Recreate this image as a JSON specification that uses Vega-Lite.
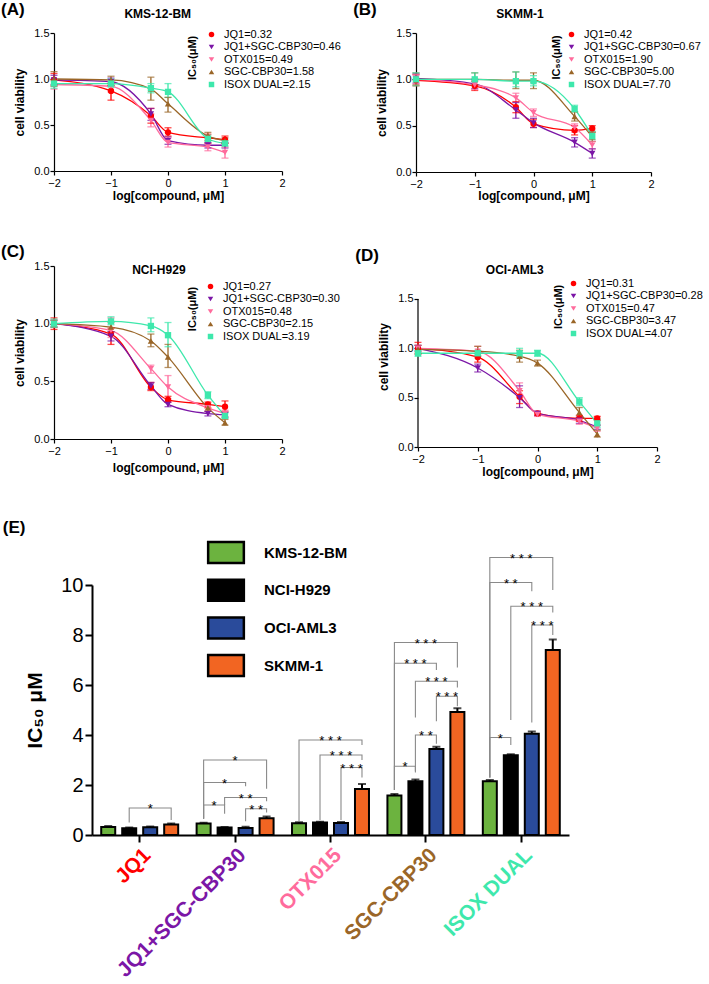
{
 "$schema": "https://vega.github.io/schema/vega-lite/v6.json",
 "padding": {"left": 0, "top": 0, "right": 0, "bottom": 0},
 "config": {
  "font": "Liberation Sans",
  "view": {"stroke": null},
  "axis": {"grid": false, "domainColor": "#000", "tickColor": "#000", "labelColor": "#000", "titleColor": "#000"},
  "legend": {"labelColor": "#000", "titleColor": "#000"}
 },
 "datasets": {
  "curves": [
   {"p":"A","d":"JQ1","x":-2,"v":0.99,"lo":0.92,"hi":1.06},
   {"p":"A","d":"JQ1","x":-1,"v":0.87,"lo":0.77,"hi":0.93},
   {"p":"A","d":"JQ1","x":-0.3,"v":0.6,"lo":0.52,"hi":0.68},
   {"p":"A","d":"JQ1","x":0,"v":0.42,"lo":0.38,"hi":0.47},
   {"p":"A","d":"JQ1","x":0.7,"v":0.36,"lo":0.3,"hi":0.4},
   {"p":"A","d":"JQ1","x":1,"v":0.34,"lo":0.3,"hi":0.38},
   {"p":"A","d":"JQ1+SGC-CBP30","x":-2,"v":0.99,"lo":0.94,"hi":1.04},
   {"p":"A","d":"JQ1+SGC-CBP30","x":-1,"v":0.97,"lo":0.93,"hi":1.01},
   {"p":"A","d":"JQ1+SGC-CBP30","x":-0.3,"v":0.62,"lo":0.55,"hi":0.68},
   {"p":"A","d":"JQ1+SGC-CBP30","x":0,"v":0.33,"lo":0.29,"hi":0.37},
   {"p":"A","d":"JQ1+SGC-CBP30","x":0.7,"v":0.28,"lo":0.25,"hi":0.31},
   {"p":"A","d":"JQ1+SGC-CBP30","x":1,"v":0.28,"lo":0.25,"hi":0.31},
   {"p":"A","d":"OTX015","x":-2,"v":0.94,"lo":0.89,"hi":0.99},
   {"p":"A","d":"OTX015","x":-1,"v":0.92,"lo":0.86,"hi":0.97},
   {"p":"A","d":"OTX015","x":-0.3,"v":0.55,"lo":0.48,"hi":0.62},
   {"p":"A","d":"OTX015","x":0,"v":0.31,"lo":0.26,"hi":0.36},
   {"p":"A","d":"OTX015","x":0.7,"v":0.26,"lo":0.22,"hi":0.3},
   {"p":"A","d":"OTX015","x":1,"v":0.2,"lo":0.14,"hi":0.26},
   {"p":"A","d":"SGC-CBP30","x":-2,"v":1.0,"lo":0.93,"hi":1.08},
   {"p":"A","d":"SGC-CBP30","x":-1,"v":0.99,"lo":0.95,"hi":1.03},
   {"p":"A","d":"SGC-CBP30","x":-0.3,"v":0.89,"lo":0.77,"hi":1.02},
   {"p":"A","d":"SGC-CBP30","x":0,"v":0.73,"lo":0.64,"hi":0.8},
   {"p":"A","d":"SGC-CBP30","x":0.7,"v":0.38,"lo":0.33,"hi":0.42},
   {"p":"A","d":"SGC-CBP30","x":1,"v":0.33,"lo":0.3,"hi":0.36},
   {"p":"A","d":"ISOX DUAL","x":-2,"v":0.95,"lo":0.9,"hi":1.0},
   {"p":"A","d":"ISOX DUAL","x":-1,"v":0.95,"lo":0.91,"hi":1.0},
   {"p":"A","d":"ISOX DUAL","x":-0.3,"v":0.9,"lo":0.85,"hi":0.95},
   {"p":"A","d":"ISOX DUAL","x":0,"v":0.86,"lo":0.8,"hi":0.95},
   {"p":"A","d":"ISOX DUAL","x":0.7,"v":0.35,"lo":0.31,"hi":0.39},
   {"p":"A","d":"ISOX DUAL","x":1,"v":0.3,"lo":0.27,"hi":0.33},
   {"p":"B","d":"JQ1","x":-2,"v":0.99,"lo":0.93,"hi":1.05},
   {"p":"B","d":"JQ1","x":-1,"v":0.93,"lo":0.88,"hi":0.98},
   {"p":"B","d":"JQ1","x":-0.3,"v":0.7,"lo":0.64,"hi":0.76},
   {"p":"B","d":"JQ1","x":0,"v":0.52,"lo":0.48,"hi":0.57},
   {"p":"B","d":"JQ1","x":0.7,"v":0.45,"lo":0.4,"hi":0.5},
   {"p":"B","d":"JQ1","x":1,"v":0.47,"lo":0.43,"hi":0.5},
   {"p":"B","d":"JQ1+SGC-CBP30","x":-2,"v":1.01,"lo":0.96,"hi":1.06},
   {"p":"B","d":"JQ1+SGC-CBP30","x":-1,"v":0.95,"lo":0.9,"hi":1.0},
   {"p":"B","d":"JQ1+SGC-CBP30","x":-0.3,"v":0.67,"lo":0.58,"hi":0.75},
   {"p":"B","d":"JQ1+SGC-CBP30","x":0,"v":0.53,"lo":0.48,"hi":0.58},
   {"p":"B","d":"JQ1+SGC-CBP30","x":0.7,"v":0.32,"lo":0.27,"hi":0.37},
   {"p":"B","d":"JQ1+SGC-CBP30","x":1,"v":0.2,"lo":0.15,"hi":0.25},
   {"p":"B","d":"OTX015","x":-2,"v":1.0,"lo":0.95,"hi":1.05},
   {"p":"B","d":"OTX015","x":-1,"v":0.94,"lo":0.89,"hi":0.99},
   {"p":"B","d":"OTX015","x":-0.3,"v":0.8,"lo":0.75,"hi":0.85},
   {"p":"B","d":"OTX015","x":0,"v":0.64,"lo":0.6,"hi":0.68},
   {"p":"B","d":"OTX015","x":0.7,"v":0.48,"lo":0.43,"hi":0.52},
   {"p":"B","d":"OTX015","x":1,"v":0.29,"lo":0.25,"hi":0.33},
   {"p":"B","d":"SGC-CBP30","x":-2,"v":1.0,"lo":0.94,"hi":1.07},
   {"p":"B","d":"SGC-CBP30","x":-1,"v":1.0,"lo":0.94,"hi":1.07},
   {"p":"B","d":"SGC-CBP30","x":-0.3,"v":0.99,"lo":0.9,"hi":1.08},
   {"p":"B","d":"SGC-CBP30","x":0,"v":0.99,"lo":0.9,"hi":1.07},
   {"p":"B","d":"SGC-CBP30","x":0.7,"v":0.6,"lo":0.55,"hi":0.65},
   {"p":"B","d":"SGC-CBP30","x":1,"v":0.38,"lo":0.33,"hi":0.43},
   {"p":"B","d":"ISOX DUAL","x":-2,"v":1.0,"lo":0.93,"hi":1.07},
   {"p":"B","d":"ISOX DUAL","x":-1,"v":1.0,"lo":0.94,"hi":1.07},
   {"p":"B","d":"ISOX DUAL","x":-0.3,"v":0.98,"lo":0.92,"hi":1.08},
   {"p":"B","d":"ISOX DUAL","x":0,"v":0.98,"lo":0.93,"hi":1.04},
   {"p":"B","d":"ISOX DUAL","x":0.7,"v":0.68,"lo":0.65,"hi":0.72},
   {"p":"B","d":"ISOX DUAL","x":1,"v":0.39,"lo":0.35,"hi":0.44},
   {"p":"C","d":"JQ1","x":-2,"v":1.0,"lo":0.95,"hi":1.05},
   {"p":"C","d":"JQ1","x":-1,"v":0.91,"lo":0.82,"hi":0.96},
   {"p":"C","d":"JQ1","x":-0.3,"v":0.45,"lo":0.42,"hi":0.49},
   {"p":"C","d":"JQ1","x":0,"v":0.34,"lo":0.32,"hi":0.37},
   {"p":"C","d":"JQ1","x":0.7,"v":0.3,"lo":0.27,"hi":0.32},
   {"p":"C","d":"JQ1","x":1,"v":0.28,"lo":0.24,"hi":0.33},
   {"p":"C","d":"JQ1+SGC-CBP30","x":-2,"v":1.0,"lo":0.97,"hi":1.03},
   {"p":"C","d":"JQ1+SGC-CBP30","x":-1,"v":0.89,"lo":0.85,"hi":0.93},
   {"p":"C","d":"JQ1+SGC-CBP30","x":-0.3,"v":0.46,"lo":0.43,"hi":0.49},
   {"p":"C","d":"JQ1+SGC-CBP30","x":0,"v":0.3,"lo":0.28,"hi":0.32},
   {"p":"C","d":"JQ1+SGC-CBP30","x":0.7,"v":0.22,"lo":0.2,"hi":0.24},
   {"p":"C","d":"JQ1+SGC-CBP30","x":1,"v":0.21,"lo":0.19,"hi":0.23},
   {"p":"C","d":"OTX015","x":-2,"v":1.0,"lo":0.97,"hi":1.03},
   {"p":"C","d":"OTX015","x":-1,"v":0.94,"lo":0.88,"hi":1.05},
   {"p":"C","d":"OTX015","x":-0.3,"v":0.61,"lo":0.57,"hi":0.64},
   {"p":"C","d":"OTX015","x":0,"v":0.45,"lo":0.35,"hi":0.55},
   {"p":"C","d":"OTX015","x":0.7,"v":0.27,"lo":0.24,"hi":0.3},
   {"p":"C","d":"OTX015","x":1,"v":0.22,"lo":0.19,"hi":0.25},
   {"p":"C","d":"SGC-CBP30","x":-2,"v":1.0,"lo":0.97,"hi":1.03},
   {"p":"C","d":"SGC-CBP30","x":-1,"v":0.97,"lo":0.93,"hi":1.01},
   {"p":"C","d":"SGC-CBP30","x":-0.3,"v":0.85,"lo":0.8,"hi":0.91},
   {"p":"C","d":"SGC-CBP30","x":0,"v":0.71,"lo":0.62,"hi":0.82},
   {"p":"C","d":"SGC-CBP30","x":0.7,"v":0.27,"lo":0.24,"hi":0.3},
   {"p":"C","d":"SGC-CBP30","x":1,"v":0.14,"lo":0.12,"hi":0.17},
   {"p":"C","d":"ISOX DUAL","x":-2,"v":1.0,"lo":0.97,"hi":1.04},
   {"p":"C","d":"ISOX DUAL","x":-1,"v":1.02,"lo":0.99,"hi":1.06},
   {"p":"C","d":"ISOX DUAL","x":-0.3,"v":0.98,"lo":0.93,"hi":1.05},
   {"p":"C","d":"ISOX DUAL","x":0,"v":0.9,"lo":0.8,"hi":1.01},
   {"p":"C","d":"ISOX DUAL","x":0.7,"v":0.38,"lo":0.35,"hi":0.41},
   {"p":"C","d":"ISOX DUAL","x":1,"v":0.2,"lo":0.18,"hi":0.23},
   {"p":"D","d":"JQ1","x":-2,"v":1.0,"lo":0.94,"hi":1.06},
   {"p":"D","d":"JQ1","x":-1,"v":0.91,"lo":0.86,"hi":0.97},
   {"p":"D","d":"JQ1","x":-0.3,"v":0.51,"lo":0.44,"hi":0.57},
   {"p":"D","d":"JQ1","x":0,"v":0.34,"lo":0.32,"hi":0.36},
   {"p":"D","d":"JQ1","x":0.7,"v":0.29,"lo":0.26,"hi":0.32},
   {"p":"D","d":"JQ1","x":1,"v":0.29,"lo":0.27,"hi":0.31},
   {"p":"D","d":"JQ1+SGC-CBP30","x":-2,"v":1.0,"lo":0.97,"hi":1.03},
   {"p":"D","d":"JQ1+SGC-CBP30","x":-1,"v":0.8,"lo":0.76,"hi":0.84},
   {"p":"D","d":"JQ1+SGC-CBP30","x":-0.3,"v":0.5,"lo":0.4,"hi":0.62},
   {"p":"D","d":"JQ1+SGC-CBP30","x":0,"v":0.34,"lo":0.32,"hi":0.36},
   {"p":"D","d":"JQ1+SGC-CBP30","x":0.7,"v":0.27,"lo":0.24,"hi":0.3},
   {"p":"D","d":"JQ1+SGC-CBP30","x":1,"v":0.2,"lo":0.18,"hi":0.22},
   {"p":"D","d":"OTX015","x":-2,"v":1.0,"lo":0.97,"hi":1.03},
   {"p":"D","d":"OTX015","x":-1,"v":0.97,"lo":0.93,"hi":1.02},
   {"p":"D","d":"OTX015","x":-0.3,"v":0.57,"lo":0.53,"hi":0.65},
   {"p":"D","d":"OTX015","x":0,"v":0.33,"lo":0.31,"hi":0.36},
   {"p":"D","d":"OTX015","x":0.7,"v":0.26,"lo":0.23,"hi":0.29},
   {"p":"D","d":"OTX015","x":1,"v":0.19,"lo":0.16,"hi":0.22},
   {"p":"D","d":"SGC-CBP30","x":-2,"v":0.99,"lo":0.95,"hi":1.03},
   {"p":"D","d":"SGC-CBP30","x":-1,"v":0.97,"lo":0.92,"hi":1.02},
   {"p":"D","d":"SGC-CBP30","x":-0.3,"v":0.92,"lo":0.86,"hi":0.98},
   {"p":"D","d":"SGC-CBP30","x":0,"v":0.85,"lo":0.82,"hi":0.88},
   {"p":"D","d":"SGC-CBP30","x":0.7,"v":0.35,"lo":0.3,"hi":0.4},
   {"p":"D","d":"SGC-CBP30","x":1,"v":0.13,"lo":0.1,"hi":0.17},
   {"p":"D","d":"ISOX DUAL","x":-2,"v":0.95,"lo":0.92,"hi":0.98},
   {"p":"D","d":"ISOX DUAL","x":-1,"v":0.95,"lo":0.92,"hi":0.98},
   {"p":"D","d":"ISOX DUAL","x":-0.3,"v":0.95,"lo":0.91,"hi":1.0},
   {"p":"D","d":"ISOX DUAL","x":0,"v":0.95,"lo":0.92,"hi":0.98},
   {"p":"D","d":"ISOX DUAL","x":0.7,"v":0.46,"lo":0.42,"hi":0.5},
   {"p":"D","d":"ISOX DUAL","x":1,"v":0.24,"lo":0.2,"hi":0.28}
  ],
  "bars": [
   {"d":"JQ1","c":"KMS-12-BM","v":0.32,"hi":0.36},
   {"d":"JQ1","c":"NCI-H929","v":0.27,"hi":0.3},
   {"d":"JQ1","c":"OCI-AML3","v":0.31,"hi":0.34},
   {"d":"JQ1","c":"SKMM-1","v":0.42,"hi":0.46},
   {"d":"JQ1+SGC-CBP30","c":"KMS-12-BM","v":0.46,"hi":0.49},
   {"d":"JQ1+SGC-CBP30","c":"NCI-H929","v":0.3,"hi":0.32},
   {"d":"JQ1+SGC-CBP30","c":"OCI-AML3","v":0.28,"hi":0.33},
   {"d":"JQ1+SGC-CBP30","c":"SKMM-1","v":0.67,"hi":0.74},
   {"d":"OTX015","c":"KMS-12-BM","v":0.47,"hi":0.51},
   {"d":"OTX015","c":"NCI-H929","v":0.5,"hi":0.53},
   {"d":"OTX015","c":"OCI-AML3","v":0.48,"hi":0.52},
   {"d":"OTX015","c":"SKMM-1","v":1.84,"hi":2.04},
   {"d":"SGC-CBP30","c":"KMS-12-BM","v":1.58,"hi":1.64},
   {"d":"SGC-CBP30","c":"NCI-H929","v":2.15,"hi":2.22},
   {"d":"SGC-CBP30","c":"OCI-AML3","v":3.44,"hi":3.53},
   {"d":"SGC-CBP30","c":"SKMM-1","v":4.92,"hi":5.07},
   {"d":"ISOX DUAL","c":"KMS-12-BM","v":2.15,"hi":2.2},
   {"d":"ISOX DUAL","c":"NCI-H929","v":3.19,"hi":3.23},
   {"d":"ISOX DUAL","c":"OCI-AML3","v":4.05,"hi":4.14},
   {"d":"ISOX DUAL","c":"SKMM-1","v":7.4,"hi":7.82}
  ],
  "brackets": [
   {"b":1,"o":1,"d":"JQ1","c":"NCI-H929","y":0.5},
   {"b":1,"o":2,"d":"JQ1","c":"NCI-H929","y":1.08},
   {"b":1,"o":3,"d":"JQ1","c":"SKMM-1","y":1.08},
   {"b":1,"o":4,"d":"JQ1","c":"SKMM-1","y":0.6},
   {"b":2,"o":1,"d":"JQ1+SGC-CBP30","c":"KMS-12-BM","y":0.65},
   {"b":2,"o":2,"d":"JQ1+SGC-CBP30","c":"KMS-12-BM","y":3.0},
   {"b":2,"o":3,"d":"JQ1+SGC-CBP30","c":"SKMM-1","y":3.0},
   {"b":2,"o":4,"d":"JQ1+SGC-CBP30","c":"SKMM-1","y":1.85},
   {"b":3,"o":1,"d":"JQ1+SGC-CBP30","c":"KMS-12-BM","y":0.65},
   {"b":3,"o":2,"d":"JQ1+SGC-CBP30","c":"KMS-12-BM","y":2.1},
   {"b":3,"o":3,"d":"JQ1+SGC-CBP30","c":"OCI-AML3","y":2.1},
   {"b":3,"o":4,"d":"JQ1+SGC-CBP30","c":"OCI-AML3","y":1.95},
   {"b":4,"o":1,"d":"JQ1+SGC-CBP30","c":"KMS-12-BM","y":0.65},
   {"b":4,"o":2,"d":"JQ1+SGC-CBP30","c":"KMS-12-BM","y":1.2},
   {"b":4,"o":3,"d":"JQ1+SGC-CBP30","c":"NCI-H929","y":1.2},
   {"b":4,"o":4,"d":"JQ1+SGC-CBP30","c":"NCI-H929","y":0.85},
   {"b":5,"o":1,"d":"JQ1+SGC-CBP30","c":"NCI-H929","y":1.2},
   {"b":5,"o":2,"d":"JQ1+SGC-CBP30","c":"NCI-H929","y":1.5},
   {"b":5,"o":3,"d":"JQ1+SGC-CBP30","c":"SKMM-1","y":1.5},
   {"b":5,"o":4,"d":"JQ1+SGC-CBP30","c":"SKMM-1","y":1.35},
   {"b":6,"o":1,"d":"JQ1+SGC-CBP30","c":"OCI-AML3","y":0.55},
   {"b":6,"o":2,"d":"JQ1+SGC-CBP30","c":"OCI-AML3","y":1.05},
   {"b":6,"o":3,"d":"JQ1+SGC-CBP30","c":"SKMM-1","y":1.05},
   {"b":6,"o":4,"d":"JQ1+SGC-CBP30","c":"SKMM-1","y":0.9},
   {"b":7,"o":1,"d":"OTX015","c":"KMS-12-BM","y":0.56},
   {"b":7,"o":2,"d":"OTX015","c":"KMS-12-BM","y":3.8},
   {"b":7,"o":3,"d":"OTX015","c":"SKMM-1","y":3.8},
   {"b":7,"o":4,"d":"OTX015","c":"SKMM-1","y":3.6},
   {"b":8,"o":1,"d":"OTX015","c":"NCI-H929","y":0.6},
   {"b":8,"o":2,"d":"OTX015","c":"NCI-H929","y":3.2},
   {"b":8,"o":3,"d":"OTX015","c":"SKMM-1","y":3.2},
   {"b":8,"o":4,"d":"OTX015","c":"SKMM-1","y":3.0},
   {"b":9,"o":1,"d":"OTX015","c":"OCI-AML3","y":0.6},
   {"b":9,"o":2,"d":"OTX015","c":"OCI-AML3","y":2.7},
   {"b":9,"o":3,"d":"OTX015","c":"SKMM-1","y":2.7},
   {"b":9,"o":4,"d":"OTX015","c":"SKMM-1","y":2.3},
   {"b":10,"o":1,"d":"SGC-CBP30","c":"KMS-12-BM","y":1.8},
   {"b":10,"o":2,"d":"SGC-CBP30","c":"KMS-12-BM","y":7.7},
   {"b":10,"o":3,"d":"SGC-CBP30","c":"SKMM-1","y":7.7},
   {"b":10,"o":4,"d":"SGC-CBP30","c":"SKMM-1","y":6.7},
   {"b":11,"o":1,"d":"SGC-CBP30","c":"KMS-12-BM","y":1.8},
   {"b":11,"o":2,"d":"SGC-CBP30","c":"KMS-12-BM","y":6.87},
   {"b":11,"o":3,"d":"SGC-CBP30","c":"OCI-AML3","y":6.87},
   {"b":11,"o":4,"d":"SGC-CBP30","c":"OCI-AML3","y":6.6},
   {"b":12,"o":1,"d":"SGC-CBP30","c":"NCI-H929","y":4.7},
   {"b":12,"o":2,"d":"SGC-CBP30","c":"NCI-H929","y":6.15},
   {"b":12,"o":3,"d":"SGC-CBP30","c":"SKMM-1","y":6.15},
   {"b":12,"o":4,"d":"SGC-CBP30","c":"SKMM-1","y":5.9},
   {"b":13,"o":1,"d":"SGC-CBP30","c":"OCI-AML3","y":4.55},
   {"b":13,"o":2,"d":"SGC-CBP30","c":"OCI-AML3","y":5.55},
   {"b":13,"o":3,"d":"SGC-CBP30","c":"SKMM-1","y":5.55},
   {"b":13,"o":4,"d":"SGC-CBP30","c":"SKMM-1","y":5.15},
   {"b":14,"o":1,"d":"SGC-CBP30","c":"NCI-H929","y":2.55},
   {"b":14,"o":2,"d":"SGC-CBP30","c":"NCI-H929","y":4.0},
   {"b":14,"o":3,"d":"SGC-CBP30","c":"OCI-AML3","y":4.0},
   {"b":14,"o":4,"d":"SGC-CBP30","c":"OCI-AML3","y":3.65},
   {"b":15,"o":1,"d":"SGC-CBP30","c":"KMS-12-BM","y":1.8},
   {"b":15,"o":2,"d":"SGC-CBP30","c":"KMS-12-BM","y":2.75},
   {"b":15,"o":3,"d":"SGC-CBP30","c":"NCI-H929","y":2.75},
   {"b":15,"o":4,"d":"SGC-CBP30","c":"NCI-H929","y":2.5},
   {"b":16,"o":1,"d":"ISOX DUAL","c":"KMS-12-BM","y":2.3},
   {"b":16,"o":2,"d":"ISOX DUAL","c":"KMS-12-BM","y":11.1},
   {"b":16,"o":3,"d":"ISOX DUAL","c":"SKMM-1","y":11.1},
   {"b":16,"o":4,"d":"ISOX DUAL","c":"SKMM-1","y":9.8},
   {"b":17,"o":1,"d":"ISOX DUAL","c":"KMS-12-BM","y":2.3},
   {"b":17,"o":2,"d":"ISOX DUAL","c":"KMS-12-BM","y":10.1},
   {"b":17,"o":3,"d":"ISOX DUAL","c":"OCI-AML3","y":10.1},
   {"b":17,"o":4,"d":"ISOX DUAL","c":"OCI-AML3","y":9.75},
   {"b":18,"o":1,"d":"ISOX DUAL","c":"NCI-H929","y":4.6},
   {"b":18,"o":2,"d":"ISOX DUAL","c":"NCI-H929","y":9.15},
   {"b":18,"o":3,"d":"ISOX DUAL","c":"SKMM-1","y":9.15},
   {"b":18,"o":4,"d":"ISOX DUAL","c":"SKMM-1","y":8.9},
   {"b":19,"o":1,"d":"ISOX DUAL","c":"OCI-AML3","y":4.5},
   {"b":19,"o":2,"d":"ISOX DUAL","c":"OCI-AML3","y":8.4},
   {"b":19,"o":3,"d":"ISOX DUAL","c":"SKMM-1","y":8.4},
   {"b":19,"o":4,"d":"ISOX DUAL","c":"SKMM-1","y":8.0},
   {"b":20,"o":1,"d":"ISOX DUAL","c":"KMS-12-BM","y":2.3},
   {"b":20,"o":2,"d":"ISOX DUAL","c":"KMS-12-BM","y":3.9},
   {"b":20,"o":3,"d":"ISOX DUAL","c":"NCI-H929","y":3.9},
   {"b":20,"o":4,"d":"ISOX DUAL","c":"NCI-H929","y":3.6}
  ],
  "stars": [
   {"d":"JQ1","c":"OCI-AML3","y":1.08,"s":"*"},
   {"d":"JQ1+SGC-CBP30","c":"NO","y":3.0,"s":"*"},
   {"d":"JQ1+SGC-CBP30","c":"NCI-H929","y":2.1,"s":"*"},
   {"d":"JQ1+SGC-CBP30","c":"KN","y":1.2,"s":"*"},
   {"d":"JQ1+SGC-CBP30","c":"OCI-AML3","y":1.5,"s":"* *"},
   {"d":"JQ1+SGC-CBP30","c":"OS","y":1.05,"s":"* *"},
   {"d":"OTX015","c":"NO","y":3.8,"s":"* * *"},
   {"d":"OTX015","c":"OCI-AML3","y":3.2,"s":"* * *"},
   {"d":"OTX015","c":"OS","y":2.7,"s":"* * *"},
   {"d":"SGC-CBP30","c":"NO","y":7.7,"s":"* * *"},
   {"d":"SGC-CBP30","c":"NCI-H929","y":6.87,"s":"* * *"},
   {"d":"SGC-CBP30","c":"OCI-AML3","y":6.15,"s":"* * *"},
   {"d":"SGC-CBP30","c":"OS","y":5.55,"s":"* * *"},
   {"d":"SGC-CBP30","c":"NO","y":4.0,"s":"* *"},
   {"d":"SGC-CBP30","c":"KN","y":2.75,"s":"*"},
   {"d":"ISOX DUAL","c":"NO","y":11.1,"s":"* * *"},
   {"d":"ISOX DUAL","c":"NCI-H929","y":10.1,"s":"* *"},
   {"d":"ISOX DUAL","c":"OCI-AML3","y":9.15,"s":"* * *"},
   {"d":"ISOX DUAL","c":"OS","y":8.4,"s":"* * *"},
   {"d":"ISOX DUAL","c":"KN","y":3.9,"s":"*"}
  ]
 },
 "resolve": {"scale": {"color": "independent", "shape": "independent"}},
 "spacing": 41,
 "vconcat": [
  {
   "spacing": 42,
   "resolve": {"scale": {"color": "independent", "shape": "independent"}},
   "vconcat": [
    {
     "spacing": 12,
     "resolve": {"scale": {"color": "independent", "shape": "independent"}},
     "hconcat": [
      {
       "width": 228, "height": 138,
       "layer": [
        {"data": {"name": "curves"}, "transform": [{"filter": "datum.p == 'A'"}],
         "mark": {"type": "line", "interpolate": "monotone", "strokeWidth": 1.3},
         "encoding": {
          "x": {"field": "x", "type": "quantitative", "title": "log[compound, μM]", "scale": {"domain": [-2, 2], "nice": false},
                "axis": {"values": [-2, -1, 0, 1, 2], "format": "d", "titleFontSize": 12, "titleFontWeight": "bold", "labelFontSize": 11, "tickSize": 4, "labelPadding": 2, "titlePadding": 2, "domainWidth": 1.2, "tickWidth": 1.2, "labelFlush": false}},
          "y": {"field": "v", "type": "quantitative", "title": "cell viability", "scale": {"domain": [0, 1.5], "nice": false},
                "axis": {"values": [0, 0.5, 1, 1.5], "format": ".1f", "titleFontSize": 12, "titleFontWeight": "bold", "labelFontSize": 11, "tickSize": 4, "labelPadding": 1, "titlePadding": 7, "domainWidth": 1.2, "tickWidth": 1.2}},
          "stroke": {"field": "d", "type": "nominal", "scale": {"domain": ["JQ1", "JQ1+SGC-CBP30", "OTX015", "SGC-CBP30", "ISOX DUAL"], "range": ["#ff0000", "#7b16a6", "#ff6b9c", "#9a6628", "#3ee8ac"]}, "legend": null},
          "detail": {"field": "d"}}},
        {"data": {"name": "curves"}, "transform": [{"filter": "datum.p == 'A'"}],
         "mark": {"type": "rule", "strokeWidth": 1.3},
         "encoding": {"x": {"field": "x", "type": "quantitative", "title": "log[compound, μM]"}, "y": {"field": "lo", "type": "quantitative", "title": "cell viability"}, "y2": {"field": "hi"},
          "stroke": {"field": "d", "type": "nominal", "legend": null}}},
        {"data": {"name": "curves"}, "transform": [{"filter": "datum.p == 'A'"}],
         "mark": {"type": "tick", "orient": "horizontal", "size": 7, "thickness": 1.3},
         "encoding": {"x": {"field": "x", "type": "quantitative", "title": "log[compound, μM]"}, "y": {"field": "lo", "type": "quantitative", "title": "cell viability"},
          "fill": {"field": "d", "type": "nominal", "scale": {"domain": ["JQ1", "JQ1+SGC-CBP30", "OTX015", "SGC-CBP30", "ISOX DUAL"], "range": ["#ff0000", "#7b16a6", "#ff6b9c", "#9a6628", "#3ee8ac"]}, "legend": null}}},
        {"data": {"name": "curves"}, "transform": [{"filter": "datum.p == 'A'"}],
         "mark": {"type": "tick", "orient": "horizontal", "size": 7, "thickness": 1.3},
         "encoding": {"x": {"field": "x", "type": "quantitative", "title": "log[compound, μM]"}, "y": {"field": "hi", "type": "quantitative", "title": "cell viability"},
          "fill": {"field": "d", "type": "nominal", "legend": null}}},
        {"data": {"name": "curves"}, "transform": [{"filter": "datum.p == 'A'"}],
         "mark": {"type": "point", "filled": true, "size": 40, "opacity": 1},
         "encoding": {"x": {"field": "x", "type": "quantitative", "title": "log[compound, μM]"}, "y": {"field": "v", "type": "quantitative", "title": "cell viability"},
          "color": {"field": "d", "type": "nominal", "scale": {"domain": ["JQ1", "JQ1+SGC-CBP30", "OTX015", "SGC-CBP30", "ISOX DUAL"], "range": ["#ff0000", "#7b16a6", "#ff6b9c", "#9a6628", "#3ee8ac"]},
                    "legend": {"title": null, "orient": "none", "legendX": 152, "legendY": -4, "labelFontSize": 11, "symbolSize": 30, "rowPadding": 0.5, "labelOffset": 7, "padding": 0,
                               "labelExpr": "datum.label == 'JQ1' ? 'JQ1=0.32' : datum.label == 'JQ1+SGC-CBP30' ? 'JQ1+SGC-CBP30=0.46' : datum.label == 'OTX015' ? 'OTX015=0.49' : datum.label == 'SGC-CBP30' ? 'SGC-CBP30=1.58' : 'ISOX DUAL=2.15'"}},
          "shape": {"field": "d", "type": "nominal", "scale": {"domain": ["JQ1", "JQ1+SGC-CBP30", "OTX015", "SGC-CBP30", "ISOX DUAL"], "range": ["circle", "triangle-down", "triangle-down", "triangle-up", "square"]},
                    "legend": {"title": null, "orient": "none", "legendX": 152, "legendY": -4, "labelFontSize": 11, "symbolSize": 30, "rowPadding": 0.5, "labelOffset": 7, "padding": 0,
                               "labelExpr": "datum.label == 'JQ1' ? 'JQ1=0.32' : datum.label == 'JQ1+SGC-CBP30' ? 'JQ1+SGC-CBP30=0.46' : datum.label == 'OTX015' ? 'OTX015=0.49' : datum.label == 'SGC-CBP30' ? 'SGC-CBP30=1.58' : 'ISOX DUAL=2.15'"}}}},
        {"data": {"values": [{"k": 1}]}, "mark": {"type": "text", "fontSize": 17, "fontWeight": "bold", "align": "left", "baseline": "middle", "color": "#000"},
         "encoding": {"x": {"datum": -2.93, "type": "quantitative", "title": "log[compound, μM]"}, "y": {"datum": 1.75, "type": "quantitative", "title": "cell viability"}, "text": {"value": "(A)"}}},
        {"data": {"values": [{"k": 1}]}, "mark": {"type": "text", "fontSize": 12, "fontWeight": "bold", "align": "center", "baseline": "middle", "color": "#000"},
         "encoding": {"x": {"datum": -0.18, "type": "quantitative", "title": "log[compound, μM]"}, "y": {"datum": 1.71, "type": "quantitative", "title": "cell viability"}, "text": {"value": "KMS-12-BM"}}},
        {"data": {"values": [{"k": 1}]}, "mark": {"type": "text", "fontSize": 11, "fontWeight": "bold", "align": "center", "baseline": "middle", "angle": 270, "color": "#000"},
         "encoding": {"x": {"datum": 0.44, "type": "quantitative", "title": "log[compound, μM]"}, "y": {"datum": 1.23, "type": "quantitative", "title": "cell viability"}, "text": {"value": "IC₅₀(μM)"}}}
       ]
      },
      {
       "width": 235, "height": 139,
       "layer": [
        {"data": {"name": "curves"}, "transform": [{"filter": "datum.p == 'B'"}],
         "mark": {"type": "line", "interpolate": "monotone", "strokeWidth": 1.3},
         "encoding": {
          "x": {"field": "x", "type": "quantitative", "title": "log[compound, μM]", "scale": {"domain": [-2, 2], "nice": false},
                "axis": {"values": [-2, -1, 0, 1, 2], "format": "d", "titleFontSize": 12, "titleFontWeight": "bold", "labelFontSize": 11, "tickSize": 4, "labelPadding": 2, "titlePadding": 1, "domainWidth": 1.2, "tickWidth": 1.2, "labelFlush": false}},
          "y": {"field": "v", "type": "quantitative", "title": "cell viability", "scale": {"domain": [0, 1.5], "nice": false},
                "axis": {"values": [0, 0.5, 1, 1.5], "format": ".1f", "titleFontSize": 12, "titleFontWeight": "bold", "labelFontSize": 11, "tickSize": 4, "labelPadding": 1, "titlePadding": 7, "domainWidth": 1.2, "tickWidth": 1.2}},
          "stroke": {"field": "d", "type": "nominal", "scale": {"domain": ["JQ1", "JQ1+SGC-CBP30", "OTX015", "SGC-CBP30", "ISOX DUAL"], "range": ["#ff0000", "#7b16a6", "#ff6b9c", "#9a6628", "#3ee8ac"]}, "legend": null},
          "detail": {"field": "d"}}},
        {"data": {"name": "curves"}, "transform": [{"filter": "datum.p == 'B'"}],
         "mark": {"type": "rule", "strokeWidth": 1.3},
         "encoding": {"x": {"field": "x", "type": "quantitative", "title": "log[compound, μM]"}, "y": {"field": "lo", "type": "quantitative", "title": "cell viability"}, "y2": {"field": "hi"},
          "stroke": {"field": "d", "type": "nominal", "legend": null}}},
        {"data": {"name": "curves"}, "transform": [{"filter": "datum.p == 'B'"}],
         "mark": {"type": "tick", "orient": "horizontal", "size": 7, "thickness": 1.3},
         "encoding": {"x": {"field": "x", "type": "quantitative", "title": "log[compound, μM]"}, "y": {"field": "lo", "type": "quantitative", "title": "cell viability"},
          "fill": {"field": "d", "type": "nominal", "scale": {"domain": ["JQ1", "JQ1+SGC-CBP30", "OTX015", "SGC-CBP30", "ISOX DUAL"], "range": ["#ff0000", "#7b16a6", "#ff6b9c", "#9a6628", "#3ee8ac"]}, "legend": null}}},
        {"data": {"name": "curves"}, "transform": [{"filter": "datum.p == 'B'"}],
         "mark": {"type": "tick", "orient": "horizontal", "size": 7, "thickness": 1.3},
         "encoding": {"x": {"field": "x", "type": "quantitative", "title": "log[compound, μM]"}, "y": {"field": "hi", "type": "quantitative", "title": "cell viability"},
          "fill": {"field": "d", "type": "nominal", "legend": null}}},
        {"data": {"name": "curves"}, "transform": [{"filter": "datum.p == 'B'"}],
         "mark": {"type": "point", "filled": true, "size": 40, "opacity": 1},
         "encoding": {"x": {"field": "x", "type": "quantitative", "title": "log[compound, μM]"}, "y": {"field": "v", "type": "quantitative", "title": "cell viability"},
          "color": {"field": "d", "type": "nominal", "scale": {"domain": ["JQ1", "JQ1+SGC-CBP30", "OTX015", "SGC-CBP30", "ISOX DUAL"], "range": ["#ff0000", "#7b16a6", "#ff6b9c", "#9a6628", "#3ee8ac"]},
                    "legend": {"title": null, "orient": "none", "legendX": 150, "legendY": -4, "labelFontSize": 11, "symbolSize": 30, "rowPadding": 0.5, "labelOffset": 7, "padding": 0,
                               "labelExpr": "datum.label == 'JQ1' ? 'JQ1=0.42' : datum.label == 'JQ1+SGC-CBP30' ? 'JQ1+SGC-CBP30=0.67' : datum.label == 'OTX015' ? 'OTX015=1.90' : datum.label == 'SGC-CBP30' ? 'SGC-CBP30=5.00' : 'ISOX DUAL=7.70'"}},
          "shape": {"field": "d", "type": "nominal", "scale": {"domain": ["JQ1", "JQ1+SGC-CBP30", "OTX015", "SGC-CBP30", "ISOX DUAL"], "range": ["circle", "triangle-down", "triangle-down", "triangle-up", "square"]},
                    "legend": {"title": null, "orient": "none", "legendX": 150, "legendY": -4, "labelFontSize": 11, "symbolSize": 30, "rowPadding": 0.5, "labelOffset": 7, "padding": 0,
                               "labelExpr": "datum.label == 'JQ1' ? 'JQ1=0.42' : datum.label == 'JQ1+SGC-CBP30' ? 'JQ1+SGC-CBP30=0.67' : datum.label == 'OTX015' ? 'OTX015=1.90' : datum.label == 'SGC-CBP30' ? 'SGC-CBP30=5.00' : 'ISOX DUAL=7.70'"}}}},
        {"data": {"values": [{"k": 1}]}, "mark": {"type": "text", "fontSize": 17, "fontWeight": "bold", "align": "left", "baseline": "middle", "color": "#000"},
         "encoding": {"x": {"datum": -3.07, "type": "quantitative", "title": "log[compound, μM]"}, "y": {"datum": 1.75, "type": "quantitative", "title": "cell viability"}, "text": {"value": "(B)"}}},
        {"data": {"values": [{"k": 1}]}, "mark": {"type": "text", "fontSize": 12, "fontWeight": "bold", "align": "center", "baseline": "middle", "color": "#000"},
         "encoding": {"x": {"datum": -0.23, "type": "quantitative", "title": "log[compound, μM]"}, "y": {"datum": 1.71, "type": "quantitative", "title": "cell viability"}, "text": {"value": "SKMM-1"}}},
        {"data": {"values": [{"k": 1}]}, "mark": {"type": "text", "fontSize": 11, "fontWeight": "bold", "align": "center", "baseline": "middle", "angle": 270, "color": "#000"},
         "encoding": {"x": {"datum": 0.4, "type": "quantitative", "title": "log[compound, μM]"}, "y": {"datum": 1.236, "type": "quantitative", "title": "cell viability"}, "text": {"value": "IC₅₀(μM)"}}}
       ]
      }
     ]
    },
    {
     "spacing": 15,
     "resolve": {"scale": {"color": "independent", "shape": "independent"}},
     "hconcat": [
      {
       "width": 228, "height": 173,
       "layer": [
        {"data": {"name": "curves"}, "transform": [{"filter": "datum.p == 'C'"}],
         "mark": {"type": "line", "interpolate": "monotone", "strokeWidth": 1.3},
         "encoding": {
          "x": {"field": "x", "type": "quantitative", "title": "log[compound, μM]", "scale": {"domain": [-2, 2], "nice": false},
                "axis": {"values": [-2, -1, 0, 1, 2], "format": "d", "titleFontSize": 12, "titleFontWeight": "bold", "labelFontSize": 11, "tickSize": 4, "labelPadding": 2, "titlePadding": 6, "domainWidth": 1.2, "tickWidth": 1.2, "labelFlush": false}},
          "y": {"field": "v", "type": "quantitative", "title": "cell viability", "scale": {"domain": [0, 1.5], "nice": false},
                "axis": {"values": [0, 0.5, 1, 1.5], "format": ".1f", "titleFontSize": 12, "titleFontWeight": "bold", "labelFontSize": 11, "tickSize": 4, "labelPadding": 1, "titlePadding": 7, "domainWidth": 1.2, "tickWidth": 1.2}},
          "stroke": {"field": "d", "type": "nominal", "scale": {"domain": ["JQ1", "JQ1+SGC-CBP30", "OTX015", "SGC-CBP30", "ISOX DUAL"], "range": ["#ff0000", "#7b16a6", "#ff6b9c", "#9a6628", "#3ee8ac"]}, "legend": null},
          "detail": {"field": "d"}}},
        {"data": {"name": "curves"}, "transform": [{"filter": "datum.p == 'C'"}],
         "mark": {"type": "rule", "strokeWidth": 1.3},
         "encoding": {"x": {"field": "x", "type": "quantitative", "title": "log[compound, μM]"}, "y": {"field": "lo", "type": "quantitative", "title": "cell viability"}, "y2": {"field": "hi"},
          "stroke": {"field": "d", "type": "nominal", "legend": null}}},
        {"data": {"name": "curves"}, "transform": [{"filter": "datum.p == 'C'"}],
         "mark": {"type": "tick", "orient": "horizontal", "size": 7, "thickness": 1.3},
         "encoding": {"x": {"field": "x", "type": "quantitative", "title": "log[compound, μM]"}, "y": {"field": "lo", "type": "quantitative", "title": "cell viability"},
          "fill": {"field": "d", "type": "nominal", "scale": {"domain": ["JQ1", "JQ1+SGC-CBP30", "OTX015", "SGC-CBP30", "ISOX DUAL"], "range": ["#ff0000", "#7b16a6", "#ff6b9c", "#9a6628", "#3ee8ac"]}, "legend": null}}},
        {"data": {"name": "curves"}, "transform": [{"filter": "datum.p == 'C'"}],
         "mark": {"type": "tick", "orient": "horizontal", "size": 7, "thickness": 1.3},
         "encoding": {"x": {"field": "x", "type": "quantitative", "title": "log[compound, μM]"}, "y": {"field": "hi", "type": "quantitative", "title": "cell viability"},
          "fill": {"field": "d", "type": "nominal", "legend": null}}},
        {"data": {"name": "curves"}, "transform": [{"filter": "datum.p == 'C'"}],
         "mark": {"type": "point", "filled": true, "size": 40, "opacity": 1},
         "encoding": {"x": {"field": "x", "type": "quantitative", "title": "log[compound, μM]"}, "y": {"field": "v", "type": "quantitative", "title": "cell viability"},
          "color": {"field": "d", "type": "nominal", "scale": {"domain": ["JQ1", "JQ1+SGC-CBP30", "OTX015", "SGC-CBP30", "ISOX DUAL"], "range": ["#ff0000", "#7b16a6", "#ff6b9c", "#9a6628", "#3ee8ac"]},
                    "legend": {"title": null, "orient": "none", "legendX": 151, "legendY": 15, "labelFontSize": 11, "symbolSize": 30, "rowPadding": 0.5, "labelOffset": 7, "padding": 0,
                               "labelExpr": "datum.label == 'JQ1' ? 'JQ1=0.27' : datum.label == 'JQ1+SGC-CBP30' ? 'JQ1+SGC-CBP30=0.30' : datum.label == 'OTX015' ? 'OTX015=0.48' : datum.label == 'SGC-CBP30' ? 'SGC-CBP30=2.15' : 'ISOX DUAL=3.19'"}},
          "shape": {"field": "d", "type": "nominal", "scale": {"domain": ["JQ1", "JQ1+SGC-CBP30", "OTX015", "SGC-CBP30", "ISOX DUAL"], "range": ["circle", "triangle-down", "triangle-down", "triangle-up", "square"]},
                    "legend": {"title": null, "orient": "none", "legendX": 151, "legendY": 15, "labelFontSize": 11, "symbolSize": 30, "rowPadding": 0.5, "labelOffset": 7, "padding": 0,
                               "labelExpr": "datum.label == 'JQ1' ? 'JQ1=0.27' : datum.label == 'JQ1+SGC-CBP30' ? 'JQ1+SGC-CBP30=0.30' : datum.label == 'OTX015' ? 'OTX015=0.48' : datum.label == 'SGC-CBP30' ? 'SGC-CBP30=2.15' : 'ISOX DUAL=3.19'"}}}},
        {"data": {"values": [{"k": 1}]}, "mark": {"type": "text", "fontSize": 17, "fontWeight": "bold", "align": "left", "baseline": "middle", "color": "#000"},
         "encoding": {"x": {"datum": -2.93, "type": "quantitative", "title": "log[compound, μM]"}, "y": {"datum": 1.62, "type": "quantitative", "title": "cell viability"}, "text": {"value": "(C)"}}},
        {"data": {"values": [{"k": 1}]}, "mark": {"type": "text", "fontSize": 12, "fontWeight": "bold", "align": "center", "baseline": "middle", "color": "#000"},
         "encoding": {"x": {"datum": -0.16, "type": "quantitative", "title": "log[compound, μM]"}, "y": {"datum": 1.465, "type": "quantitative", "title": "cell viability"}, "text": {"value": "NCI-H929"}}},
        {"data": {"values": [{"k": 1}]}, "mark": {"type": "text", "fontSize": 11, "fontWeight": "bold", "align": "center", "baseline": "middle", "angle": 270, "color": "#000"},
         "encoding": {"x": {"datum": 0.44, "type": "quantitative", "title": "log[compound, μM]"}, "y": {"datum": 1.127, "type": "quantitative", "title": "cell viability"}, "text": {"value": "IC₅₀(μM)"}}}
       ]
      },
      {
       "width": 239, "height": 181,
       "layer": [
        {"data": {"name": "curves"}, "transform": [{"filter": "datum.p == 'D'"}],
         "mark": {"type": "line", "interpolate": "monotone", "strokeWidth": 1.3},
         "encoding": {
          "x": {"field": "x", "type": "quantitative", "title": "log[compound, μM]", "scale": {"domain": [-2, 2], "nice": false},
                "axis": {"values": [-2, -1, 0, 1, 2], "format": "d", "titleFontSize": 12, "titleFontWeight": "bold", "labelFontSize": 11, "tickSize": 4, "labelPadding": 2, "titlePadding": 2, "domainWidth": 1.2, "tickWidth": 1.2, "labelFlush": false}},
          "y": {"field": "v", "type": "quantitative", "title": "cell viability", "scale": {"domain": [0, 1.834], "nice": false},
                "axis": {"values": [0, 0.5, 1, 1.5], "format": ".1f", "domain": false, "titleFontSize": 12, "titleFontWeight": "bold", "labelFontSize": 11, "tickSize": 4, "labelPadding": 1, "titlePadding": 7, "tickWidth": 1.2}},
          "stroke": {"field": "d", "type": "nominal", "scale": {"domain": ["JQ1", "JQ1+SGC-CBP30", "OTX015", "SGC-CBP30", "ISOX DUAL"], "range": ["#ff0000", "#7b16a6", "#ff6b9c", "#9a6628", "#3ee8ac"]}, "legend": null},
          "detail": {"field": "d"}}},
        {"data": {"values": [{"k": 1}]}, "mark": {"type": "rule", "strokeWidth": 1.2, "color": "#000"},
         "encoding": {"x": {"datum": -2, "type": "quantitative", "title": "log[compound, μM]"}, "y": {"datum": 0, "type": "quantitative", "title": "cell viability"}, "y2": {"datum": 1.5}}},
        {"data": {"name": "curves"}, "transform": [{"filter": "datum.p == 'D'"}],
         "mark": {"type": "rule", "strokeWidth": 1.3},
         "encoding": {"x": {"field": "x", "type": "quantitative", "title": "log[compound, μM]"}, "y": {"field": "lo", "type": "quantitative", "title": "cell viability"}, "y2": {"field": "hi"},
          "stroke": {"field": "d", "type": "nominal", "legend": null}}},
        {"data": {"name": "curves"}, "transform": [{"filter": "datum.p == 'D'"}],
         "mark": {"type": "tick", "orient": "horizontal", "size": 7, "thickness": 1.3},
         "encoding": {"x": {"field": "x", "type": "quantitative", "title": "log[compound, μM]"}, "y": {"field": "lo", "type": "quantitative", "title": "cell viability"},
          "fill": {"field": "d", "type": "nominal", "scale": {"domain": ["JQ1", "JQ1+SGC-CBP30", "OTX015", "SGC-CBP30", "ISOX DUAL"], "range": ["#ff0000", "#7b16a6", "#ff6b9c", "#9a6628", "#3ee8ac"]}, "legend": null}}},
        {"data": {"name": "curves"}, "transform": [{"filter": "datum.p == 'D'"}],
         "mark": {"type": "tick", "orient": "horizontal", "size": 7, "thickness": 1.3},
         "encoding": {"x": {"field": "x", "type": "quantitative", "title": "log[compound, μM]"}, "y": {"field": "hi", "type": "quantitative", "title": "cell viability"},
          "fill": {"field": "d", "type": "nominal", "legend": null}}},
        {"data": {"name": "curves"}, "transform": [{"filter": "datum.p == 'D'"}],
         "mark": {"type": "point", "filled": true, "size": 40, "opacity": 1},
         "encoding": {"x": {"field": "x", "type": "quantitative", "title": "log[compound, μM]"}, "y": {"field": "v", "type": "quantitative", "title": "cell viability"},
          "color": {"field": "d", "type": "nominal", "scale": {"domain": ["JQ1", "JQ1+SGC-CBP30", "OTX015", "SGC-CBP30", "ISOX DUAL"], "range": ["#ff0000", "#7b16a6", "#ff6b9c", "#9a6628", "#3ee8ac"]},
                    "legend": {"title": null, "orient": "none", "legendX": 150, "legendY": 12, "labelFontSize": 11, "symbolSize": 30, "rowPadding": 0.5, "labelOffset": 7, "padding": 0,
                               "labelExpr": "datum.label == 'JQ1' ? 'JQ1=0.31' : datum.label == 'JQ1+SGC-CBP30' ? 'JQ1+SGC-CBP30=0.28' : datum.label == 'OTX015' ? 'OTX015=0.47' : datum.label == 'SGC-CBP30' ? 'SGC-CBP30=3.47' : 'ISOX DUAL=4.07'"}},
          "shape": {"field": "d", "type": "nominal", "scale": {"domain": ["JQ1", "JQ1+SGC-CBP30", "OTX015", "SGC-CBP30", "ISOX DUAL"], "range": ["circle", "triangle-down", "triangle-down", "triangle-up", "square"]},
                    "legend": {"title": null, "orient": "none", "legendX": 150, "legendY": 12, "labelFontSize": 11, "symbolSize": 30, "rowPadding": 0.5, "labelOffset": 7, "padding": 0,
                               "labelExpr": "datum.label == 'JQ1' ? 'JQ1=0.31' : datum.label == 'JQ1+SGC-CBP30' ? 'JQ1+SGC-CBP30=0.28' : datum.label == 'OTX015' ? 'OTX015=0.47' : datum.label == 'SGC-CBP30' ? 'SGC-CBP30=3.47' : 'ISOX DUAL=4.07'"}}}},
        {"data": {"values": [{"k": 1}]}, "mark": {"type": "text", "fontSize": 17, "fontWeight": "bold", "align": "left", "baseline": "middle", "color": "#000"},
         "encoding": {"x": {"datum": -3.05, "type": "quantitative", "title": "log[compound, μM]"}, "y": {"datum": 1.935, "type": "quantitative", "title": "cell viability"}, "text": {"value": "(D)"}}},
        {"data": {"values": [{"k": 1}]}, "mark": {"type": "text", "fontSize": 12, "fontWeight": "bold", "align": "center", "baseline": "middle", "color": "#000"},
         "encoding": {"x": {"datum": -0.38, "type": "quantitative", "title": "log[compound, μM]"}, "y": {"datum": 1.794, "type": "quantitative", "title": "cell viability"}, "text": {"value": "OCI-AML3"}}},
        {"data": {"values": [{"k": 1}]}, "mark": {"type": "text", "fontSize": 11, "fontWeight": "bold", "align": "center", "baseline": "middle", "angle": 270, "color": "#000"},
         "encoding": {"x": {"datum": 0.36, "type": "quantitative", "title": "log[compound, μM]"}, "y": {"datum": 1.42, "type": "quantitative", "title": "cell viability"}, "text": {"value": "IC₅₀(μM)"}}}
       ]
      }
     ]
    }
   ]
  },
  {
   "width": 515, "height": 250,
   "title": {"text": "(E)", "anchor": "start", "frame": "bounds", "fontSize": 17, "fontWeight": "bold", "offset": 4, "dx": -22, "color": "#000"},
   "encoding": {
    "x": {"field": "d", "type": "nominal", "sort": null, "title": null,
          "scale": {"domain": ["JQ1", "JQ1+SGC-CBP30", "OTX015", "SGC-CBP30", "ISOX DUAL"], "range": [38, 515], "paddingInner": 0.23, "paddingOuter": 0.115},
          "axis": {"labelAngle": -45, "labelFontSize": 21, "labelFontWeight": "bold", "labelLimit": 400, "tickSize": 7, "tickWidth": 2, "domainWidth": 2, "labelPadding": 2,
                   "labelColor": {"expr": "datum.value == 'JQ1' ? '#ff0000' : datum.value == 'JQ1+SGC-CBP30' ? '#7b16a6' : datum.value == 'OTX015' ? '#ff6b9c' : datum.value == 'SGC-CBP30' ? '#9a6628' : '#3ee8ac'"}}},
    "xOffset": {"field": "c", "type": "nominal", "scale": {"domain": ["KMS-12-BM", "KN", "NCI-H929", "NO", "OCI-AML3", "OS", "SKMM-1"], "paddingInner": 0, "paddingOuter": 0}}
   },
   "layer": [
    {"data": {"name": "brackets"}, "mark": {"type": "line", "color": "#8a8a8a", "strokeWidth": 1.1},
     "encoding": {"y": {"field": "y", "type": "quantitative", "title": "IC₅₀ μM", "scale": {"domain": [0, 10], "nice": false},
                        "axis": {"values": [0, 2, 4, 6, 8, 10], "offset": -38, "titleFontSize": 21, "titleFontWeight": "bold", "labelFontSize": 20, "tickSize": 7, "tickWidth": 2, "domainWidth": 2, "titlePadding": 15, "labelPadding": 2}},
                  "detail": {"field": "b"}, "order": {"field": "o"}}},
    {"data": {"name": "bars"}, "mark": {"type": "bar", "width": 14, "stroke": "#000", "strokeWidth": 2},
     "encoding": {"y": {"field": "v", "type": "quantitative", "title": "IC₅₀ μM"},
                  "color": {"field": "c", "type": "nominal", "scale": {"domain": ["KMS-12-BM", "NCI-H929", "OCI-AML3", "SKMM-1"], "range": ["#6cb33f", "#000000", "#2a4b9b", "#f26522"]},
                            "legend": {"title": null, "orient": "none", "legendX": 160, "legendY": -44.5, "symbolType": "M-1.7,-1H1.7V1H-1.7Z", "symbolSize": 441, "symbolStrokeColor": "#000", "symbolStrokeWidth": 2.5, "symbolOpacity": 1, "labelFontSize": 15, "labelFontWeight": "bold", "labelOffset": 26, "rowPadding": 5.7, "padding": 0}}}},
    {"data": {"name": "bars"}, "mark": {"type": "rule", "strokeWidth": 2, "color": "#000"},
     "encoding": {"y": {"field": "v", "type": "quantitative", "title": "IC₅₀ μM"}, "y2": {"field": "hi"}}},
    {"data": {"name": "bars"}, "mark": {"type": "tick", "orient": "horizontal", "size": 8, "thickness": 2, "color": "#000"},
     "encoding": {"y": {"field": "hi", "type": "quantitative", "title": "IC₅₀ μM"}}},
    {"data": {"name": "stars"}, "mark": {"type": "text", "fontSize": 13, "baseline": "alphabetic", "align": "center", "dy": 5, "color": "#000"},
     "encoding": {"y": {"field": "y", "type": "quantitative", "title": "IC₅₀ μM"}, "text": {"field": "s"}}}
   ]
  }
 ]
}
